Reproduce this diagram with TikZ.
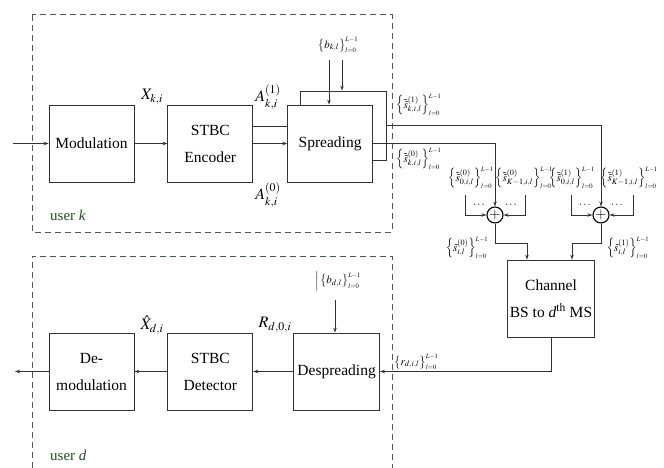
\documentclass[tikz,border=0pt]{standalone}
\usepackage{mathptmx}
\usepackage{fontspec}
\setmainfont{Liberation Serif}
\usepackage{tikz}
\usetikzlibrary{positioning,arrows.meta,calc}
\definecolor{ink}{HTML}{333333}
\definecolor{grp}{HTML}{4A604A}
\definecolor{usr}{HTML}{2A4A2A}
\newcommand{\lrange}{_{\scriptscriptstyle l=0}^{\scriptscriptstyle L-1}}
\tikzset{
  blk/.style={rectangle,draw=ink,fill=white,line width=0.8pt,align=center,
    minimum width=85pt,minimum height=77pt,inner sep=2pt,
    font=\fontsize{15.5}{27}\selectfont},
  sum/.style={circle,draw=black,line width=1.1pt,minimum size=16pt,inner sep=0pt},
  ln/.style={draw=ink,line width=0.8pt},
  arr/.style={ln,-{Stealth[length=5pt,width=3.5pt]}},
  grpbox/.style={draw=grp,line width=1pt,dash pattern=on 6pt off 4pt},
  lbl/.style={inner sep=0pt,font=\fontsize{16}{18}\selectfont},
  slbl/.style={inner sep=0pt,font=\fontsize{11}{13}\selectfont},
  usrlbl/.style={inner sep=0pt,anchor=west,text=usr,font=\fontsize{15}{17}\selectfont},
}

\begin{document}
\begin{tikzpicture}[x=1pt,y=-1pt]
  \useasboundingbox (0,0) rectangle (664,468);
  % user k (transmitter)
  \draw[grpbox] (32,15) rectangle (392,232);
  \node[blk] (mod) at (91.5,143.5) {Modulation};
  \node[blk,right=33pt of mod] (enc) {STBC\\Encoder};
  \node[blk,minimum width=86pt,minimum height=69pt] (back) at (343,125.5) {};
  \node[blk,right=34pt of enc] (spread) {Spreading};
  \node[usrlbl] (uk) at (50,215) {user \textit{k}};

  \coordinate (src) at (13,143.5);
  \coordinate (up) at (0,126);
  \draw[arr] (src) -- (mod);
  \draw[arr] (mod) -- (enc);
  \draw[ln] (enc.east |- up) -- (spread.west |- up);
  \draw[arr] (enc) -- (spread);

  \node[lbl] (xk) at (152,97) {$X_{k,i}$};
  \node[lbl] (a1) at (268,97) {$A_{k,i}^{(1)}$};
  \node[lbl] (a0) at (268,195) {$A_{k,i}^{(0)}$};

  \node[slbl] (bk) at (338,45) {$\left\{b_{k,l}\right\}\lrange$};
  \coordinate (bk1) at (329,60);
  \coordinate (bk2) at (342,60);
  \draw[arr] (bk1) -- (bk1 |- spread.north);
  \draw[arr] (bk2) -- (bk2 |- back.north);

  % combining of all users
  \node[sum] (sum0) at (495,215) {\Large$+$};
  \node[sum] (sum1) at (601,215) {\Large$+$};
  \draw[arr] (back.east) -| (sum1.north);
  \draw[arr] (spread.east) -| (sum0.north);
  \node[slbl,anchor=west] (sk1) at (396,105) {$\left\{\tilde{\tilde{s}}_{k,i,l}^{(1)}\right\}\lrange$};
  \node[slbl,anchor=west] (sk0) at (396,159) {$\left\{\tilde{\tilde{s}}_{k,i,l}^{(0)}\right\}\lrange$};

  \coordinate (in0a) at (465,195);
  \coordinate (in0b) at (525,195);
  \coordinate (in1a) at (571,195);
  \coordinate (in1b) at (633,195);
  \draw[arr] (in0a) |- (sum0.west);
  \draw[arr] (in0b) |- (sum0.east);
  \draw[arr] (in1a) |- (sum1.west);
  \draw[arr] (in1b) |- (sum1.east);
  \node[slbl] (d0a) at (479,205) {$\cdots$};
  \node[slbl] (d0b) at (511,205) {$\cdots$};
  \node[slbl] (d1a) at (585,205) {$\cdots$};
  \node[slbl] (d1b) at (617,205) {$\cdots$};

  \node[slbl,anchor=west] (s00) at (448,178) {$\left\{\tilde{\tilde{s}}_{0,i,l}^{(0)}\right\}\lrange$};
  \node[slbl,anchor=west] (s0K) at (495,178) {$\left\{\tilde{\tilde{s}}_{K{-}1,i,l}^{(0)}\right\}\lrange$};
  \node[slbl,anchor=west] (s10) at (549,178) {$\left\{\tilde{\tilde{s}}_{0,i,l}^{(1)}\right\}\lrange$};
  \node[slbl,anchor=west] (s1K) at (600,178) {$\left\{\tilde{\tilde{s}}_{K{-}1,i,l}^{(1)}\right\}\lrange$};

  % channel
  \node[blk,minimum width=86pt] (chan) at (551,298.5) {Channel\\BS to \textit{d}\textsuperscript{th} MS};
  \coordinate (c0) at (527,243);
  \coordinate (c1) at (572,243);
  \draw[arr] (sum0.south) |- (c0) -- (c0 |- chan.north);
  \draw[arr] (sum1.south) |- (c1) -- (c1 |- chan.north);
  \node[slbl] (st0) at (467,248) {$\left\{\tilde{s}_{i,l}^{(0)}\right\}\lrange$};
  \node[slbl] (st1) at (628,248) {$\left\{\tilde{s}_{i,l}^{(1)}\right\}\lrange$};

  % user d (receiver)
  \draw[grpbox] (32,468) |- (392,256) -- (392,468);
  \node[blk] (demod) at (91.5,371.5) {De-\\modulation};
  \node[blk,right=33pt of demod] (det) {STBC\\Detector};
  \node[blk,minimum width=86pt,right=40pt of det] (desp) {Despreading};
  \node[usrlbl] (ud) at (50,455) {user \textit{d}};

  \coordinate (sink) at (15,371.5);
  \draw[arr] (chan.south) |- (desp.east);
  \draw[arr] (desp) -- (det);
  \draw[arr] (det) -- (demod);
  \draw[arr] (demod) -- (sink);
  \node[slbl,anchor=west] (rd) at (394,362) {$\left\{r_{d,i,l}\right\}\lrange$};

  \node[lbl] (xd) at (152,325) {$\hat{X}_{d,i}$};
  \node[lbl] (rr) at (275,325) {$R_{d,0,i}$};
  \node[slbl] (bd) at (338,281) {$\Big|\left\{b_{d,l}\right\}\lrange$};
  \coordinate (bd1) at (335,300);
  \draw[arr] (bd1) -- (bd1 |- desp.north);
\end{tikzpicture}
\end{document}
